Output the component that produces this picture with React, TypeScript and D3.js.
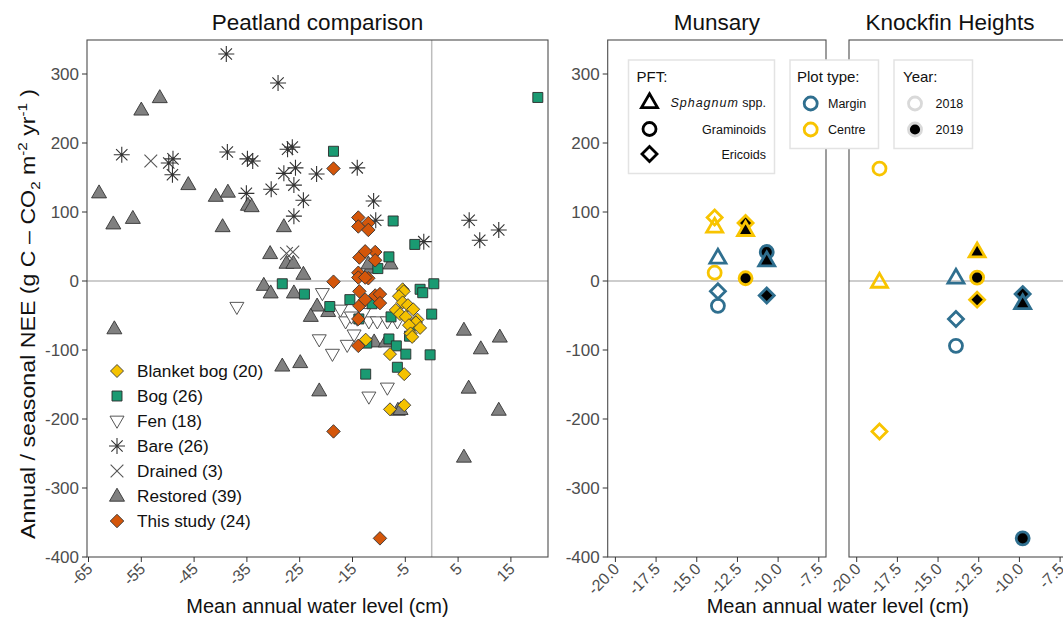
import React from "react";
import * as d3 from "d3";

const W = 1063;
const H = 625;

// ---------- Data: left panel (water level cm, NEE) ----------
const blanketBog: [number, number][] = [
  [-5.5, -12], [-5.3, -15], [-6.2, -22], [-5.5, -31], [-4.5, -35], [-3.5, -41], [-6.8, -42],
  [-6.0, -48], [-4.9, -52], [-2.7, -56], [-3.0, -60], [-4.3, -64], [-2.2, -68], [-4.0, -76],
  [-3.7, -81], [-12.5, -85], [-7.9, -106], [-5.2, -135], [-7.9, -186], [-5.2, -180],
];
const bog: [number, number][] = [
  [-18.6, 188], [-7.3, 87], [-3.2, 53], [-8.1, 35], [-10.2, 18], [-28.3, -4], [-24.1, -19],
  [-15.5, -27], [-19.3, -37], [-2.2, -12], [-1.7, -17], [0.4, -4], [0.0, -48], [-3.5, -64],
  [-8.1, -84], [-6.7, -94], [-4.9, -106], [-0.3, -107], [-12.5, -135], [-6.5, -125],
  [-12.3, -90], [20.1, 266], [-13.8, -55], [-11.3, -33], [-7.7, -52], [-4.2, -80],
];
const fen: [number, number][] = [
  [-36.9, -38], [-20.7, -18], [-17.3, -42], [-16.3, -59], [-14.7, -78], [-16.0, -93],
  [-21.3, -85], [-18.8, -106], [-14.1, -55], [-11.9, -59], [-10.3, -59], [-8.4, -59],
  [-6.5, -59], [-8.4, -155], [-11.9, -168], [-12.9, -47], [-15.2, -52], [-5.5, -45],
];
const bare: [number, number][] = [
  [-38.9, 329], [-29.1, 287], [-58.7, 183], [-38.7, 187], [-49.8, 171], [-49.0, 177],
  [-49.1, 154], [-34.9, 177], [-33.9, 174], [-35.1, 127], [-30.4, 133], [-27.3, 191],
  [-26.4, 194], [-25.8, 164], [-28.0, 156], [-26.1, 139], [-21.8, 155], [-14.1, 164],
  [-24.3, 117], [-26.1, 94], [-11.0, 116], [-10.6, 88], [-1.5, 57], [7.1, 88], [9.1, 59],
  [12.7, 74],
];
const drained: [number, number][] = [[-53.2, 174], [-26.3, 42], [-27.5, 40]];
const restored: [number, number][] = [
  [-63.0, 128], [-60.3, 83], [-56.6, 91], [-55.0, 248], [-51.5, 266], [-46.1, 140],
  [-40.9, 123], [-38.6, 129], [-39.6, 79], [-34.8, 110], [-34.1, 108], [-28.0, 79],
  [-60.1, -69], [-27.5, 26], [-26.2, 26], [-24.3, 10], [-11.6, 19], [-7.8, 25], [-26.1, -17],
  [-21.7, -36], [-31.8, -6], [-30.5, -17], [-22.9, -51], [-19.6, -44], [-10.9, -88],
  [-28.3, -123], [-24.9, -118], [-21.3, -159], [-6.4, -187], [6.1, -71], [9.3, -98],
  [12.9, -81], [7.0, -155], [12.7, -187], [6.1, -255], [-30.6, 40], [-8.7, -88],
  [-12.0, 25], [-5.9, -186],
];

// ---------- Data: this study (site, plot, year, pft, water level, NEE) ----------
const siteNames = ["Munsary", "Knockfin Heights"];
const plotTypes = ["Margin", "Centre"];
const years = [2018, 2019];
const pfts = ["Sphagnum", "Graminoids", "Ericoids"];
// rows: [site, plot, year, pft, wl, nee]
const thisStudy: [number, number, number, number, number, number][] = [
  // Munsary
  [0, 0, 0, 0, -13.7, 34], [0, 0, 0, 2, -13.7, -15], [0, 0, 0, 1, -13.7, -36],
  [0, 1, 0, 2, -13.9, 92], [0, 1, 0, 0, -13.9, 79], [0, 1, 0, 1, -13.9, 12],
  [0, 1, 1, 2, -12.0, 84], [0, 1, 1, 0, -12.0, 74], [0, 1, 1, 1, -12.0, 4],
  [0, 0, 1, 1, -10.7, 42], [0, 0, 1, 0, -10.7, 30], [0, 0, 1, 2, -10.7, -21],
  // Knockfin Heights
  [1, 1, 0, 1, -18.6, 163], [1, 1, 0, 0, -18.6, -1], [1, 1, 0, 2, -18.6, -218],
  [1, 0, 0, 0, -13.9, 5], [1, 0, 0, 2, -13.9, -55], [1, 0, 0, 1, -13.9, -94],
  [1, 1, 1, 0, -12.6, 43], [1, 1, 1, 1, -12.6, 5], [1, 1, 1, 2, -12.6, -27],
  [1, 0, 1, 2, -9.8, -19], [1, 0, 1, 0, -9.8, -32], [1, 0, 1, 1, -9.8, -373],
];

const leftXTicks = [-65, -55, -45, -35, -25, -15, -5, 5, 15];
const rightXTicks = [-20.0, -17.5, -15.0, -12.5, -10.0, -7.5];
const yTicks = [300, 200, 100, 0, -100, -200, -300, -400];

// ---------- Layout ----------
const FONT = "'Liberation Sans', Arial, sans-serif";
const TOP = 40;
const BOT = 557;
const yScale = d3.scaleLinear().domain([-400, 300]).range([557, 74]);
const leftPanel = { x0: 87, x1: 548 };
const xLeft = d3.scaleLinear().domain([-65, 0]).range([88.5, 431.7]);
const midPanel = { x0: 607.7, x1: 826 };
const xMid = d3.scaleLinear().domain([-20, -7.5]).range([615.4, 818.8]);
const rightPanel = { x0: 849, x1: 1068 };
const xRight = d3.scaleLinear().domain([-20, -7.5]).range([856.7, 1060.1]);

const COL = {
  blanket: "#F5C200",
  bog: "#1A9A72",
  study: "#D4560A",
  restored: "#808080",
  margin: "#2F6F8F",
  centre: "#F8C400",
};

// ---------- Marker paths ----------
function triUp(s: number) {
  const h = s * 0.866;
  return `M0,${-h * 0.6}L${s / 2},${h * 0.4}L${-s / 2},${h * 0.4}Z`;
}
function triDown(s: number) {
  const h = s * 0.866;
  return `M0,${h * 0.6}L${s / 2},${-h * 0.4}L${-s / 2},${-h * 0.4}Z`;
}
function diamond(s: number) {
  const r = s / 2;
  return `M0,${-r}L${r},0L0,${r}L${-r},0Z`;
}
function square(s: number) {
  const r = s / 2;
  return `M${-r},${-r}H${r}V${r}H${-r}Z`;
}
function asterisk(r: number) {
  const d = r * Math.SQRT1_2;
  return `M0,${-r}V${r}M${-r},0H${r}M${-d},${-d}L${d},${d}M${-d},${d}L${d},${-d}`;
}
function cross(r: number) {
  const d = r * Math.SQRT1_2;
  return `M${-d},${-d}L${d},${d}M${-d},${d}L${d},${-d}`;
}

type Style = { d: string; fill: string; stroke: string; sw: number };
const groupStyles: Record<string, Style> = {
  blanket: { d: diamond(13), fill: COL.blanket, stroke: "#3a3a3a", sw: 0.9 },
  bog: { d: square(10), fill: COL.bog, stroke: "#2a2a2a", sw: 0.9 },
  fen: { d: triDown(14), fill: "#ffffff", stroke: "#444", sw: 0.9 },
  bare: { d: asterisk(8), fill: "none", stroke: "#333", sw: 1.1 },
  drained: { d: cross(9), fill: "none", stroke: "#555", sw: 1.1 },
  restored: { d: triUp(15), fill: COL.restored, stroke: "#333", sw: 0.9 },
  study: { d: diamond(13.5), fill: COL.study, stroke: "#333", sw: 0.9 },
};

const legendItems: [string, string][] = [
  ["blanket", "Blanket bog (20)"],
  ["bog", "Bog (26)"],
  ["fen", "Fen (18)"],
  ["bare", "Bare (26)"],
  ["drained", "Drained (3)"],
  ["restored", "Restored (39)"],
  ["study", "This study (24)"],
];

function pftPath(p: number) {
  if (p === 0) return triUp(16);
  if (p === 1) return "M0,-6.5A6.5,6.5 0 1,1 0,6.5A6.5,6.5 0 1,1 0,-6.5Z";
  return diamond(15);
}

function Panel({ x0, x1 }: { x0: number; x1: number }) {
  return (
    <rect x={x0} y={TOP} width={x1 - x0} height={BOT - TOP} fill="none" stroke="#4d4d4d" strokeWidth={1.1} />
  );
}

function XTicks({ ticks, scale, fmt }: { ticks: number[]; scale: (v: number) => number; fmt: (v: number) => string }) {
  return (
    <g>
      {ticks.map((t) => {
        const x = scale(t);
        return (
          <g key={t}>
            <line x1={x} x2={x} y1={BOT} y2={BOT + 5} stroke="#333" strokeWidth={1} />
            <text
              transform={`translate(${x + 5},${BOT + 13}) rotate(-45)`}
              textAnchor="end"
              fontSize={16}
              fill="#4d4d4d"
              fontFamily={FONT}
            >
              {fmt(t)}
            </text>
          </g>
        );
      })}
    </g>
  );
}

function YTicks({ x0 }: { x0: number }) {
  return (
    <g>
      {yTicks.map((t) => {
        const y = yScale(t);
        return (
          <g key={t}>
            <line x1={x0 - 5} x2={x0} y1={y} y2={y} stroke="#333" strokeWidth={1} />
            <text x={x0 - 8} y={y} dy="0.35em" textAnchor="end" fontSize={17} fill="#4d4d4d" fontFamily={FONT}>
              {t}
            </text>
          </g>
        );
      })}
    </g>
  );
}

function StudyMarkers({ site, scale }: { site: number; scale: (v: number) => number }) {
  const rows = thisStudy.filter((r) => r[0] === site);
  const sorted = [...rows].sort((a, b) => a[2] - b[2]);
  return (
    <g>
      {sorted.map((r, i) => {
        const col = r[1] === 0 ? COL.margin : COL.centre;
        return (
          <path
            key={i}
            d={pftPath(r[3])}
            transform={`translate(${scale(r[4])},${yScale(r[5])})`}
            fill={r[2] === 1 ? "#000" : "none"}
            stroke={col}
            strokeWidth={2.8}
          />
        );
      })}
    </g>
  );
}

export default function App() {
  const studyLeft: [number, number][] = thisStudy.map((r) => [r[4], r[5]]);
  const leftGroups: [string, [number, number][]][] = [
    ["restored", restored],
    ["bare", bare],
    ["drained", drained],
    ["fen", fen],
    ["bog", bog],
    ["blanket", blanketBog],
    ["study", studyLeft],
  ];
  const fmtRight = (v: number) => v.toFixed(1);

  return (
    <svg
      width={W}
      height={H}
      viewBox={`0 0 ${W} ${H}`}
      style={{ position: "absolute", left: 0, top: 0, background: "#fff" }}
      fontFamily={FONT}
    >
      <rect x={0} y={0} width={W} height={H} fill="#fff" />

      {/* Titles */}
      <text x={(leftPanel.x0 + leftPanel.x1) / 2} y={30} textAnchor="middle" fontSize={22.5} fill="#111">
        Peatland comparison
      </text>
      <text x={(midPanel.x0 + midPanel.x1) / 2} y={30} textAnchor="middle" fontSize={22.5} fill="#111">
        {siteNames[0]}
      </text>
      <text x={950} y={30} textAnchor="middle" fontSize={22.5} fill="#111">
        {siteNames[1]}
      </text>

      {/* Left panel */}
      <line x1={leftPanel.x0} x2={leftPanel.x1} y1={yScale(0)} y2={yScale(0)} stroke="#bdbdbd" strokeWidth={1.5} />
      <line x1={xLeft(0)} x2={xLeft(0)} y1={TOP} y2={BOT} stroke="#bdbdbd" strokeWidth={1.5} />
      {leftGroups.map(([g, pts]) => {
        const st = groupStyles[g];
        return (
          <g key={g}>
            {pts.map((p, i) => (
              <path
                key={i}
                d={st.d}
                transform={`translate(${xLeft(p[0])},${yScale(p[1])})`}
                fill={st.fill}
                stroke={st.stroke}
                strokeWidth={st.sw}
              />
            ))}
          </g>
        );
      })}
      {/* left legend */}
      {legendItems.map(([g, label], i) => {
        const st = groupStyles[g];
        const y = 371 + i * 25;
        return (
          <g key={g}>
            <path d={st.d} transform={`translate(117,${y})`} fill={st.fill} stroke={st.stroke} strokeWidth={st.sw} />
            <text x={137} y={y} dy="0.35em" fontSize={17.2} fill="#111">
              {label}
            </text>
          </g>
        );
      })}
      <Panel x0={leftPanel.x0} x1={leftPanel.x1} />
      <YTicks x0={leftPanel.x0} />
      <XTicks ticks={leftXTicks} scale={xLeft} fmt={(v) => String(v)} />

      {/* Middle panel */}
      <line x1={midPanel.x0} x2={midPanel.x1} y1={yScale(0)} y2={yScale(0)} stroke="#bdbdbd" strokeWidth={1.5} />
      <StudyMarkers site={0} scale={xMid} />
      <Panel x0={midPanel.x0} x1={midPanel.x1} />
      <YTicks x0={midPanel.x0} />
      <XTicks ticks={rightXTicks} scale={xMid} fmt={fmtRight} />

      {/* Right panel */}
      <line x1={rightPanel.x0} x2={rightPanel.x1} y1={yScale(0)} y2={yScale(0)} stroke="#bdbdbd" strokeWidth={1.5} />
      <StudyMarkers site={1} scale={xRight} />
      <Panel x0={rightPanel.x0} x1={rightPanel.x1} />
      <XTicks ticks={rightXTicks} scale={xRight} fmt={fmtRight} />

      {/* Legends on right */}
      <g>
        <rect x={628.5} y={60} width={146} height={113.5} fill="#fff" stroke="#e3e3e3" strokeWidth={1.5} />
        <text x={636.5} y={82} fontSize={15} fill="#111">PFT:</text>
        <path d={triUp(16)} transform="translate(649.5,102)" fill="none" stroke="#000" strokeWidth={2.8} />
        <text x={766} y={107} textAnchor="end" fontSize={12.5} fill="#111">
          <tspan fontStyle="italic" letterSpacing={1}>{pfts[0]}</tspan>
          <tspan> spp.</tspan>
        </text>
        <path d={pftPath(1)} transform="translate(649.5,129)" fill="none" stroke="#000" strokeWidth={2.8} />
        <text x={766} y={133.5} textAnchor="end" fontSize={12.5} fill="#111">{pfts[1]}</text>
        <path d={pftPath(2)} transform="translate(649.5,154)" fill="none" stroke="#000" strokeWidth={2.8} />
        <text x={766} y={158.5} textAnchor="end" fontSize={12.5} fill="#111">{pfts[2]}</text>

        <rect x={790} y={60} width={88.5} height={88.5} fill="#fff" stroke="#e3e3e3" strokeWidth={1.5} />
        <text x={797} y={82} fontSize={15} fill="#111">Plot type:</text>
        <circle cx={810.7} cy={103.5} r={6.5} fill="none" stroke={COL.margin} strokeWidth={2.8} />
        <text x={828} y={108} fontSize={12.5} fill="#111">{plotTypes[0]}</text>
        <circle cx={810.7} cy={129.5} r={6.5} fill="none" stroke={COL.centre} strokeWidth={2.8} />
        <text x={828} y={134} fontSize={12.5} fill="#111">{plotTypes[1]}</text>

        <rect x={894} y={60} width={78.5} height={88.5} fill="#fff" stroke="#e3e3e3" strokeWidth={1.5} />
        <text x={903} y={82} fontSize={15} fill="#111">Year:</text>
        <circle cx={915} cy={103.5} r={6.5} fill="none" stroke="#d9d9d9" strokeWidth={2.8} />
        <text x={935.5} y={108} fontSize={12.5} fill="#111">{years[0]}</text>
        <circle cx={915} cy={129.5} r={6.5} fill="#000" stroke="#d9d9d9" strokeWidth={2.8} />
        <text x={935.5} y={134} fontSize={12.5} fill="#111">{years[1]}</text>
      </g>

      {/* Axis titles */}
      <text x={(leftPanel.x0 + leftPanel.x1) / 2} y={613} textAnchor="middle" fontSize={20} fill="#111">
        Mean annual water level (cm)
      </text>
      <text x={(midPanel.x0 + rightPanel.x1) / 2} y={613} textAnchor="middle" fontSize={20} fill="#111">
        Mean annual water level (cm)
      </text>
      <text
        transform={`translate(35,314) rotate(-90)`}
        textAnchor="middle"
        fontSize={20}
        fill="#111"
        textLength={450}
        lengthAdjust="spacingAndGlyphs"
      >
        <tspan>Annual / seasonal NEE (g C – CO</tspan>
        <tspan fontSize={13} dy={5}>2</tspan>
        <tspan dy={-5}> m</tspan>
        <tspan fontSize={13} dy={-8}>-2</tspan>
        <tspan dy={8}> yr</tspan>
        <tspan fontSize={13} dy={-8}>-1</tspan>
        <tspan dy={8}> )</tspan>
      </text>
    </svg>
  );
}
